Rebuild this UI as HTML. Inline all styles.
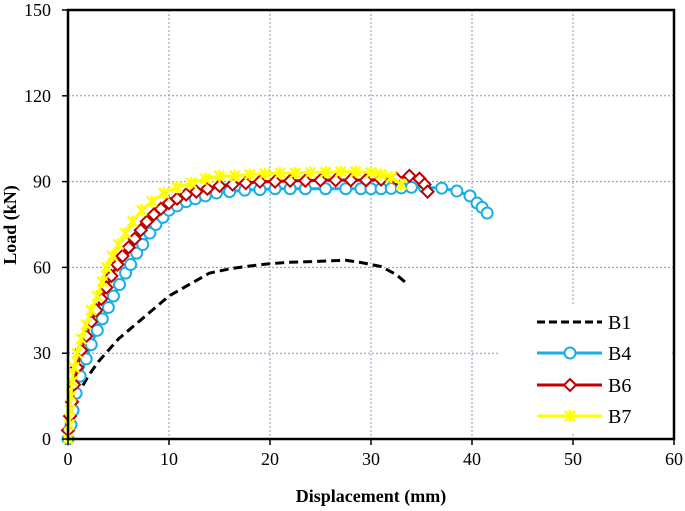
<!DOCTYPE html>
<html><head><meta charset="utf-8"><style>
body{margin:0;background:#fff;}
svg{display:block;font-family:"Liberation Serif",serif;}
</style></head><body>
<svg id="chart" width="685" height="511" viewBox="0 0 685 511" xmlns="http://www.w3.org/2000/svg">
<g id="grid"></g><g id="legendbg"></g><g id="series"></g><g id="axes"></g><g id="legend"></g>
</svg>
<script>
const xTicks=[0,10,20,30,40,50,60];
const yTicks=[0,30,60,90,120,150];
const b1X=[0,0.3,0.7,1.2,2,3,4,5,6,8,10,12,14,16,18,20,22,24,26,27.5,29,31,32.5,33.5];
const b1Y=[0,7,12,17,22,27,31,35,38,44,50,54,58,59.5,60.5,61.3,61.8,62,62.3,62.5,61.7,60.3,57.5,54.5];
const b4X=[0,0.3,0.5,0.8,1.2,1.8,2.3,2.9,3.4,4,4.5,5.1,5.7,6.2,6.8,7.4,8.1,8.7,9.4,10,10.8,11.7,12.6,13.6,14.7,16,17.5,19,20.5,22,23.5,25.5,27.5,29,30,31,32,33,34,35.3,37,38.5,39.8,40.5,41,41.5];
const b4Y=[0,5,10,16,22,28,33,38,42,46,50,54,58,61,65,68,72,75,77.5,80,81.5,83,84,85,86,86.5,87,87.2,87.5,87.5,87.5,87.5,87.5,87.5,87.5,87.5,87.6,87.8,88,88,87.7,86.7,85,82.5,81,79];
const b6X=[0,0.2,0.4,0.6,0.9,1.3,1.8,2.3,2.8,3.3,3.8,4.3,4.9,5.4,6,6.6,7.2,7.8,8.5,9.2,10,10.8,11.7,12.7,13.8,15,16.3,17.6,19,20.5,22,23.5,25,26.5,28,29.5,31,32.5,33.8,34.8,35.3,35.6];
const b6Y=[3,8,13,19,25,31,36,41,45,49,53,57,61,64,67,70,73,76,78.5,80.5,82.5,84,85.5,86.5,87.5,88.5,89,89.5,90,90,90.3,90.3,90.5,90.5,90.5,90.5,90.7,91,92,91,89,86.5];
const b7X=[0,0.1,0.2,0.3,0.4,0.6,0.9,1.3,1.8,2.3,2.9,3.4,3.8,4.4,5,5.7,6.4,7.3,8.3,9.5,10.8,12.2,13.6,15,16.5,18,19.5,21,22.5,24,25.5,27,28.5,30,31,32,33];
const b7Y=[0,5,10,15,20,25,30,35,40,45,50,55,60,64,68,72,76,80,83,86,88,89.5,91,92,92,92.5,92.8,93,93,93.2,93.3,93.5,93.5,93.2,92.5,91.5,89];
const X0=68,X1=674,Y0=439,Y1=10;
const sx=v=>X0+(v-0)/(60-0)*(X1-X0);
const sy=v=>Y0-(v-0)/(150-0)*(Y0-Y1);
const NS="http://www.w3.org/2000/svg";
function mk(tag,attrs,parent){const e=document.createElementNS(NS,tag);for(const k in attrs)e.setAttribute(k,attrs[k]);document.getElementById(parent).appendChild(e);return e;}
xTicks.forEach(t=>{if(t===0||t===60)return;const l=mk('line',{x1:sx(t),x2:sx(t),y1:Y1,y2:Y0,stroke:'#7f9cbc','stroke-width':1,'stroke-dasharray':'2,2'},'grid');

});
yTicks.forEach(t=>{if(t===0||t===150)return;const l=mk('line',{x1:X0,x2:X1,y1:sy(t),y2:sy(t),stroke:'#7f9cbc','stroke-width':1,'stroke-dasharray':'2,2'},'grid');

});
const lb=mk('rect',{x:498,y:305,width:174,height:128,fill:'#fff'},'legendbg');


function pts(xs,ys){return xs.map((x,i)=>sx(x)+','+sy(ys[i])).join(' ');}
const s1=mk('polyline',{points:pts(b1X,b1Y),fill:'none',stroke:'#000','stroke-width':3,'stroke-dasharray':'9,5'},'series');


function markerSeries(xs,ys,color,type,name){
 const pl=mk('polyline',{points:pts(xs,ys),fill:'none',stroke:color,'stroke-width':3},'series');
 
 
 xs.forEach((x,i)=>drawMarker(sx(x),sy(ys[i]),color,type,'series',name+'-marker'));
}
function drawMarker(cx,cy,color,type,parent,name){
 let m;
 if(type==='circle')m=mk('circle',{cx:cx,cy:cy,r:5.5,fill:'#fff',stroke:color,'stroke-width':2},parent);
 else if(type==='diamond')m=mk('polygon',{points:`${cx},${cy-6} ${cx+6},${cy} ${cx},${cy+6} ${cx-6},${cy}`,fill:'#fff',stroke:color,'stroke-width':2},parent);
 else m=mk('path',{d:`M${cx-5},${cy-5}L${cx+5},${cy+5}M${cx+5},${cy-5}L${cx-5},${cy+5}M${cx},${cy-6}L${cx},${cy+6}`,stroke:color,'stroke-width':2.5,fill:'none'},parent);
 
 
}
markerSeries(b4X,b4Y,'#1aaee6','circle','series-b4');
markerSeries(b6X,b6Y,'#c00000','diamond','series-b6');
markerSeries(b7X,b7Y,'#ffff00','star','series-b7');
const box=mk('rect',{x:X0,y:Y1,width:X1-X0,height:Y0-Y1,fill:'none',stroke:'#000','stroke-width':2.5},'axes');


xTicks.forEach(t=>{
 const k=mk('line',{x1:sx(t),x2:sx(t),y1:Y0,y2:Y0+6,stroke:'#000','stroke-width':1.5},'axes');
 
 
 const tx=mk('text',{x:sx(t),y:Y0+26,'text-anchor':'middle','font-size':18},'axes');tx.textContent=t;
 
 
});
yTicks.forEach(t=>{
 const k=mk('line',{x1:X0-6,x2:X0,y1:sy(t),y2:sy(t),stroke:'#000','stroke-width':1.5},'axes');
 
 
 const tx=mk('text',{x:X0-17,y:sy(t)+6,'text-anchor':'end','font-size':18},'axes');tx.textContent=t;
 
 
});
const xt=mk('text',{x:371,y:502,'text-anchor':'middle','font-size':18,'font-weight':'bold'},'axes');xt.textContent='Displacement (mm)';


const yt=mk('text',{x:0,y:0,'text-anchor':'middle','font-size':18,'font-weight':'bold',transform:'translate(16,225) rotate(-90)'},'axes');yt.textContent='Load (kN)';


const legNames=['B1','B4','B6','B7'];
const legY=[322,353,385,416];
const legStyles=[['#000','none'],['#1aaee6','circle'],['#c00000','diamond'],['#ffff00','star']];
legNames.forEach((n,i)=>{
 const [c,t]=legStyles[i];
 const l=mk('line',{x1:537,x2:602,y1:legY[i],y2:legY[i],stroke:c,'stroke-width':3},'legend');
 if(t==='none')l.setAttribute('stroke-dasharray','8,4');
 
 
 if(t!=='none')drawMarker(570,legY[i],c,t,'legend','legend-marker-'+n.toLowerCase());
 const tx=mk('text',{x:608,y:legY[i]+7,'font-size':20},'legend');tx.textContent=n;
 
 
});
</script>
</body></html>
